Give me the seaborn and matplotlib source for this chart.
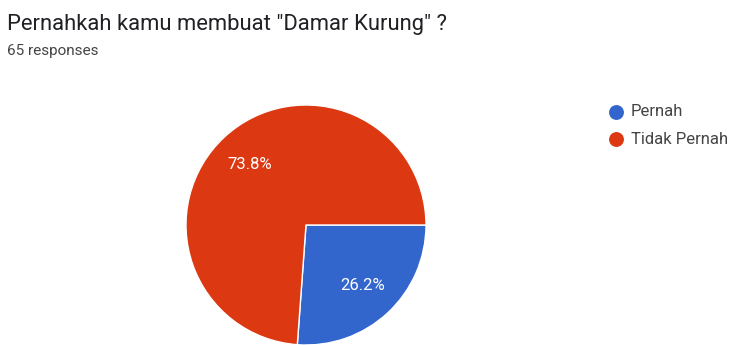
import matplotlib
matplotlib.use("Agg")
import matplotlib.pyplot as plt
import seaborn as sns

categories = ["Pernah", "Tidak Pernah"]
counts = [17, 48]
colors = ["#3366CC", "#DC3912"]
title = 'Pernahkah kamu membuat "Damar Kurung" ?'
subtitle = "65 responses"

sns.set_theme(style="white")
plt.rcParams["font.family"] = ["Roboto", "DejaVu Sans"]

W, H = 729, 345
fig = plt.figure(figsize=(W / 100, H / 100), dpi=100)
ax = fig.add_axes([0, 0, 1, 1])

wedges, texts, autotexts = ax.pie(
    counts,
    colors=colors,
    startangle=0,
    counterclock=False,
    center=(306, H - 225),
    radius=120,
    autopct=lambda p: f"{p:.1f}%",
    pctdistance=0.69,
    wedgeprops=dict(edgecolor="white", linewidth=1),
    textprops=dict(color="white", fontsize=12),
    frame=True,
)
ax.set_xlim(0, W)
ax.set_ylim(0, H)
ax.set_aspect("equal")
ax.axis("off")

fig.text(7 / W, 1 - 30 / H, title, fontsize=15.8, color="#202124",
         va="baseline", ha="left")
fig.text(7 / W, 1 - 55 / H, subtitle, fontsize=11, color="#444444",
         va="baseline", ha="left")

# legend: coloured dot followed by category name
for i, (lab, c) in enumerate(zip(categories, colors)):
    y = 112 + i * 27
    ax.scatter([616], [H - y], s=115, color=c, zorder=5, linewidths=0)
    ax.text(631, H - y, lab, fontsize=12, color="#444444",
            va="center", ha="left")

fig.savefig("out.png", dpi=100, facecolor="white")
